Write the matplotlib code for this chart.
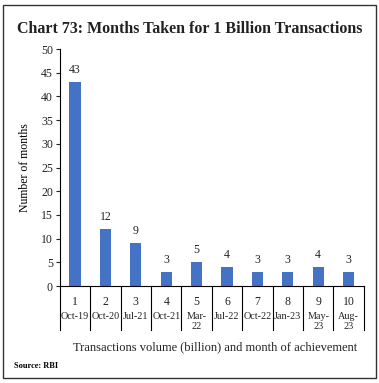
import matplotlib.pyplot as plt
from matplotlib.patches import Rectangle
from matplotlib.lines import Line2D

# data
volumes = ['1', '2', '3', '4', '5', '6', '7', '8', '9', '10']
months = ['Oct-19', 'Oct-20', 'Jul-21', 'Oct-21', 'Mar-\n22', 'Jul-22',
          'Oct-22', 'Jan-23', 'May-\n23', 'Aug-\n23']
months_taken = [43, 12, 9, 3, 5, 4, 3, 3, 4, 3]

plt.rcParams['font.family'] = ['Liberation Serif', 'DejaVu Serif']

fig = plt.figure(figsize=(3.79, 3.83), dpi=100)
ax = fig.add_axes([0.158, 0.253, 0.802, 0.619])

x = list(range(len(volumes)))
bars = ax.bar(x, months_taken, width=0.37, color='#4472c4', zorder=2)
for xi, v in zip(x, months_taken):
    ax.text(xi, v + 1.3, str(v), ha='center', va='bottom', fontsize=8.5, color='#222222')

ax.set_xlim(-0.5, len(volumes) - 0.5)
ax.set_ylim(0, 50)
ax.set_yticks(range(0, 51, 5))
ax.tick_params(axis='y', labelsize=8.5, length=3, width=0.8, pad=2, colors='#222222')
ax.set_xticks([])
for s in ['top', 'right']:
    ax.spines[s].set_visible(False)
ax.spines['left'].set_linewidth(0.8)
ax.spines['bottom'].set_linewidth(0.8)
ax.set_ylabel('Number of months', fontsize=8.5, labelpad=7)

# two-level category labels with separators
for i in range(len(volumes) + 1):
    ax.add_line(Line2D([i - 0.5, i - 0.5], [0, -0.185], transform=ax.get_xaxis_transform(),
                       color='black', lw=0.8, clip_on=False))
for i, (vol, mon) in enumerate(zip(volumes, months)):
    ax.text(i, -0.04, vol, transform=ax.get_xaxis_transform(), ha='center', va='top',
            fontsize=8.5, color='#222222')
    ax.text(i, -0.108, mon, transform=ax.get_xaxis_transform(), ha='center', va='top',
            fontsize=7.3, color='#222222', linespacing=1.2)

fig.text(0.567, 0.094, 'Transactions volume (billion) and month of achievement',
         ha='center', va='center', fontsize=9, color='#222222')
fig.text(0.5, 0.925, 'Chart 73: Months Taken for 1 Billion Transactions',
         ha='center', va='center', fontsize=11.5, fontweight='bold', color='#222222')
fig.text(0.037, 0.044, 'Source: RBI', ha='left', va='center', fontsize=6, fontweight='bold')

fig.patches.append(Rectangle((0.008, 0.013), 0.984, 0.974, transform=fig.transFigure,
                             fill=False, edgecolor='#333333', lw=1.0))

fig.savefig('out.png', dpi=100)
